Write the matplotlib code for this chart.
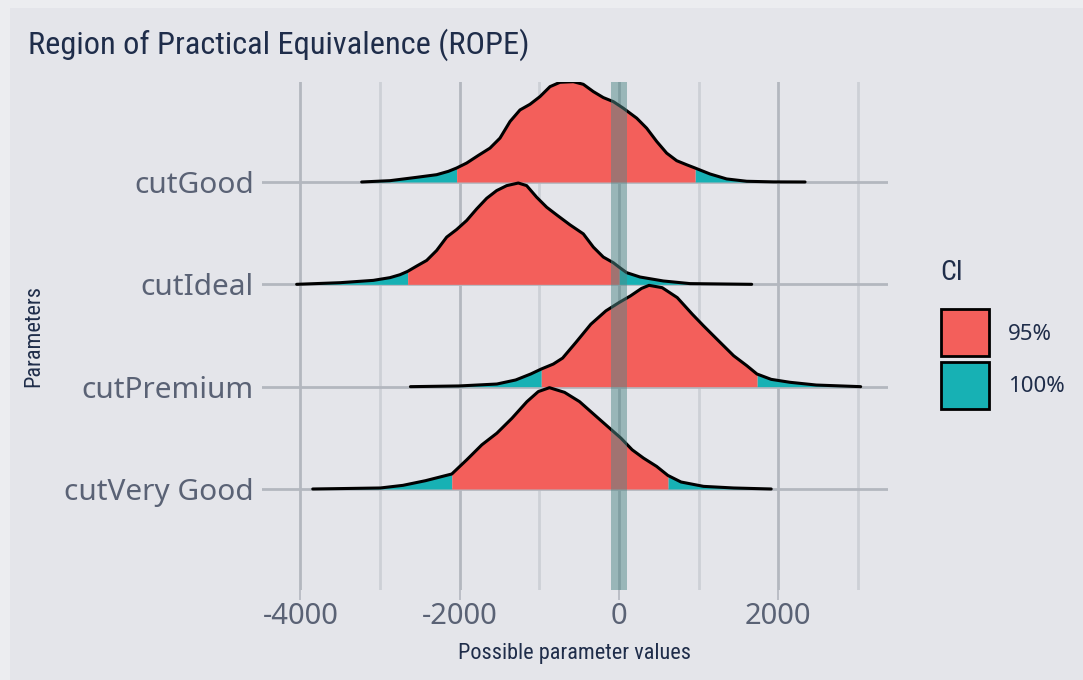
import numpy as np
import matplotlib.pyplot as plt
from matplotlib.patches import Rectangle

# parameters, top to bottom
params = ['cutGood', 'cutIdeal', 'cutPremium', 'cutVery Good']
ypos = [4, 3, 2, 1]

# density curves (x = parameter value, h = scaled height)
good_x = [-3230, -2874, -2540, -2289, -2142, -2038, -1912, -1766, -1620, -1494, -1368, -1243, -1117, -992, -866,
          -741, -573, -448, -322, -197, -71, 54, 222, 347, 473, 598, 724, 849, 954, 1142, 1351, 1603, 1937, 2335]
good_h = [0, 0.013, 0.046, 0.072, 0.105, 0.138, 0.187, 0.262, 0.334, 0.433, 0.597, 0.711, 0.767, 0.843, 0.941,
          0.984, 0.99, 0.964, 0.892, 0.833, 0.793, 0.728, 0.63, 0.531, 0.40, 0.285, 0.21, 0.17, 0.138, 0.079,
          0.03, 0.007, 0.001, 0]

ideal_x = [-4046, -3502, -3084, -2874, -2749, -2653, -2540, -2414, -2289, -2163, -2038, -1912, -1787, -1661, -1536,
           -1410, -1264, -1159, -1033, -908, -782, -615, -448, -322, -197, -71, 0, 96, 264, 556, 891, 1665]
ideal_h = [0, 0.016, 0.039, 0.066, 0.095, 0.128, 0.18, 0.236, 0.334, 0.466, 0.541, 0.63, 0.744, 0.849, 0.925,
           0.974, 1.0, 0.974, 0.859, 0.761, 0.685, 0.587, 0.498, 0.367, 0.269, 0.213, 0.17, 0.115, 0.072, 0.033,
           0.007, 0]

prem_x = [-2618, -2005, -1533, -1297, -1108, -976, -825, -708, -542, -354, -165, 0, 142, 283, 377, 542, 731, 920,
          1061, 1250, 1439, 1604, 1731, 1910, 2146, 2476, 3033]
prem_h = [0, 0.007, 0.026, 0.066, 0.125, 0.174, 0.223, 0.282, 0.436, 0.616, 0.748, 0.83, 0.895, 0.97, 1.0, 0.977,
          0.879, 0.715, 0.60, 0.452, 0.305, 0.207, 0.125, 0.072, 0.043, 0.016, 0]

vgood_x = [-3844, -2995, -2712, -2429, -2099, -1910, -1722, -1533, -1344, -1156, -1014, -873, -684, -495, -307,
           -118, 24, 165, 307, 472, 613, 778, 1061, 1439, 1910]
vgood_h = [0, 0.01, 0.036, 0.082, 0.148, 0.289, 0.436, 0.551, 0.698, 0.862, 0.961, 1.0, 0.954, 0.862, 0.731,
           0.60, 0.502, 0.387, 0.305, 0.223, 0.134, 0.069, 0.026, 0.01, 0]

curves_x = [good_x, ideal_x, prem_x, vgood_x]
curves_h = [good_h, ideal_h, prem_h, vgood_h]

# 95% CI bounds
ci_low = [-2038, -2653, -976, -2099]
ci_high = [954, 0, 1731, 613]

rope = [-100, 100]

bg = '#E4E5EA'
red = '#F35F5B'
teal = '#17B1B4'
navy = '#1F2D4A'
gray_txt = '#5A6275'
cond = ['Noto Sans Condensed', 'Roboto Condensed', 'Open Sans Condensed', 'Roboto']

plt.rcParams['font.family'] = ['Noto Sans', 'DejaVu Sans']

fig = plt.figure(figsize=(10.83, 6.8), dpi=100)
fig.patch.set_facecolor('#ECEDF0')
fig.add_artist(Rectangle((10 / 1083, 0), 1, 1 - 8 / 680, transform=fig.transFigure,
                         facecolor=bg, edgecolor='none', zorder=0))

ax = fig.add_axes([262 / 1083, 1 - 590 / 680, (888 - 262) / 1083, (590 - 82) / 680])
ax.set_facecolor(bg)
for s in ax.spines.values():
    s.set_visible(False)

ax.set_xlim(-4481, 3376)
ax.set_ylim(0.013, 4.977)

# grid
for v in [-4000, -2000, 0, 2000]:
    ax.axvline(v, color='#B3B7BF', lw=2, zorder=1)
for v in [-3000, -1000, 1000, 3000]:
    ax.axvline(v, color='#CDD0D6', lw=2, zorder=1)
for y in ypos:
    ax.axhline(y, color='#B3B7BF', lw=2, zorder=1)

scale = 0.99
for i, (xs, hs) in enumerate(zip(curves_x, curves_h)):
    xs = np.array(xs, dtype=float)
    hs = np.array(hs) * scale
    y0 = ypos[i]
    z = 2 + i
    inside = (xs >= ci_low[i]) & (xs <= ci_high[i])
    ax.fill_between(xs, y0, y0 + hs, where=(xs <= ci_low[i]), color=teal, lw=0, zorder=z)
    ax.fill_between(xs, y0, y0 + hs, where=(xs >= ci_high[i]), color=teal, lw=0, zorder=z)
    ax.fill_between(xs, y0, y0 + hs, where=inside, color=red, lw=0, zorder=z)
    ax.plot(xs, y0 + hs, color='black', lw=2.2, solid_joinstyle='round',
            solid_capstyle='round', zorder=z + 0.5)

# ROPE band
ax.axvspan(rope[0], rope[1], color='#508887', alpha=0.5, lw=0, zorder=10)

ax.set_xticks([-4000, -2000, 0, 2000])
ax.set_xticklabels(['-4000', '-2000', '0', '2000'])
ax.set_yticks(ypos)
ax.set_yticklabels(params)
ax.tick_params(axis='x', length=7, width=1.2, color='#B3B7BF', labelsize=21,
               labelcolor=gray_txt, pad=2)
ax.tick_params(axis='y', length=0, labelsize=21.5, labelcolor=gray_txt, pad=6)

ax.set_xlabel('Possible parameter values', family=cond, fontstretch='condensed',
              fontsize=16, color=navy, labelpad=8)
ax.set_ylabel('Parameters', family=cond, fontstretch='condensed',
              fontsize=16, color=navy, labelpad=14)

fig.text(28 / 1083, 1 - 45 / 680, 'Region of Practical Equivalence (ROPE)', family=cond,
         fontstretch='condensed', fontsize=23.3, color=navy, va='center', ha='left')

# legend
fig.text(940 / 1083, 1 - 272 / 680, 'CI', family=cond, fontstretch='condensed', fontsize=20,
         color=navy, va='center', ha='left')
for j, (c, lab) in enumerate([(red, '95%'), (teal, '100%')]):
    top = 309 + j * 53
    fig.add_artist(Rectangle((941 / 1083, 1 - (top + 47) / 680), 48 / 1083, 47 / 680,
                             transform=fig.transFigure, facecolor=c, edgecolor='black', lw=2))
    fig.text(1008 / 1083, 1 - (top + 25) / 680, lab, fontsize=16, color=navy,
             va='center', ha='left')

fig.savefig('out.png', dpi=100, facecolor=fig.get_facecolor())
